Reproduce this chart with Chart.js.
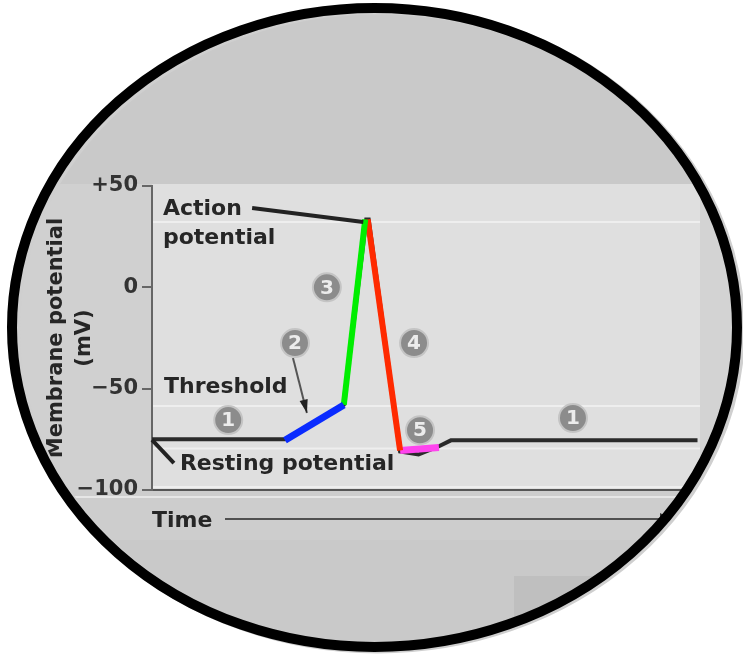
<!DOCTYPE html>
<html lang="en">
<head>
<meta charset="UTF-8">
<title>Action potential</title>
<script src="https://cdn.jsdelivr.net/npm/chart.js"></script>
<style>
  html, body { margin: 0; padding: 0; background: #fff; }
  #wrap { width: 743px; height: 655px; }
</style>
</head>
<body>
<div id="wrap"><canvas id="chart" width="743" height="655"></canvas></div>
<script>
// membrane potential trace (time in arbitrary units, mV)
const traceTime = [0, 26.7, 38.5, 43.0, 43.5, 49.8, 53.5, 57.5, 60, 109.5];
const traceMv   = [-75, -75, -58, 33.5, 33.5, -81, -82.5, -78.5, -75.5, -75.5];

// coloured phase overlays
const blueTime = [26.7, 38.5],  blueMv = [-75.5, -58];
const greenTime = [38.5, 42.8], greenMv = [-58, 33.5];
const redTime = [43.3, 49.8],   redMv = [33.5, -80.5];
const pinkTime = [49.8, 57.6],  pinkMv = [-80.5, -79];

// y axis ticks
const yTicks = [-100, -50, 0, 50];
const yTickLabels = ['\u2212100', '\u221250', '0', '+50'];

// circled step numbers
const stepNums = ['1', '2', '3', '4', '5', '1'];
const stepTime = [15.3, 28.7, 35.1, 52.6, 53.8, 84.5];
const stepMv   = [-65.5, -27.5, 0, -27.5, -70.5, -64.5];

// faint horizontal guide levels in the panel
const guideMv = [32.2, -58.5, -79.5, -98.5];

const toXY = (ts, vs) => ts.map((t, i) => ({ x: t, y: vs[i] }));

const textFont = 'bold 22px "DejaVu Sans"';

const decor = {
    id: 'decor',
    beforeDraw(chart) {
        const { ctx, chartArea: a } = chart;
        const y = chart.scales.y;
        ctx.save();
        ctx.beginPath();
        ctx.ellipse(374.5, 327.5, 362.5, 319.5, 0, 0, Math.PI * 2);
        ctx.fillStyle = '#c9c9c9';
        ctx.fill();
        ctx.clip();
        // left strip and area under the axis
        ctx.fillStyle = '#d0d0d0';
        ctx.fillRect(0, a.top - 2, a.left, a.bottom - a.top + 2);
        ctx.fillStyle = '#cdcdcd';
        ctx.fillRect(0, a.bottom, 743, 50);
        ctx.fillStyle = '#d3d3d3';
        ctx.fillRect(a.right, a.top - 2, 60, a.bottom - a.top + 2);
        // panel
        ctx.fillStyle = '#dfdfdf';
        ctx.fillRect(a.left, a.top - 2, a.right - a.left, a.bottom - a.top + 2);
        ctx.strokeStyle = '#eeeeee';
        ctx.lineWidth = 2;
        guideMv.forEach(v => {
            const gy = y.getPixelForValue(v);
            ctx.beginPath();
            ctx.moveTo(a.left, gy);
            ctx.lineTo(a.right, gy);
            ctx.stroke();
        });
        ctx.fillStyle = '#e6e6e6';
        ctx.fillRect(0, a.bottom + 6, 743, 2);
        // darker block at bottom right
        ctx.fillStyle = '#bfbfbf';
        ctx.fillRect(514, 576, 240, 100);
        ctx.restore();
    },
    afterDatasetsDraw(chart) {
        const { ctx } = chart;
        const X = t => chart.scales.x.getPixelForValue(t);
        const Y = v => chart.scales.y.getPixelForValue(v);
        ctx.save();
        // leader lines
        ctx.strokeStyle = '#222';
        ctx.lineWidth = 4;
        ctx.beginPath();
        ctx.moveTo(X(20.1), Y(39.1));
        ctx.lineTo(X(42.4), Y(32.2));
        ctx.stroke();
        ctx.beginPath();
        ctx.moveTo(X(0), Y(-75.3));
        ctx.lineTo(X(4.4), Y(-86.7));
        ctx.stroke();
        // threshold arrow
        const x0 = X(28.3), y0 = Y(-34.9), x1 = X(31.1), y1 = Y(-62);
        ctx.strokeStyle = '#555';
        ctx.lineWidth = 2;
        ctx.beginPath();
        ctx.moveTo(x0, y0);
        ctx.lineTo(x1, y1);
        ctx.stroke();
        const ang = Math.atan2(y1 - y0, x1 - x0);
        ctx.fillStyle = '#222';
        ctx.beginPath();
        ctx.moveTo(x1, y1);
        ctx.lineTo(x1 - 14 * Math.cos(ang - 0.3), y1 - 14 * Math.sin(ang - 0.3));
        ctx.lineTo(x1 - 14 * Math.cos(ang + 0.3), y1 - 14 * Math.sin(ang + 0.3));
        ctx.closePath();
        ctx.fill();
        // time arrow
        ctx.strokeStyle = '#505050';
        ctx.lineWidth = 2;
        ctx.beginPath();
        ctx.moveTo(225, 519);
        ctx.lineTo(664, 519);
        ctx.stroke();
        ctx.fillStyle = '#333';
        ctx.beginPath();
        ctx.moveTo(672, 519);
        ctx.lineTo(660, 513);
        ctx.lineTo(660, 525);
        ctx.closePath();
        ctx.fill();
        // labels
        ctx.fillStyle = '#262626';
        ctx.font = textFont;
        ctx.textAlign = 'left';
        ctx.textBaseline = 'alphabetic';
        ctx.fillText('Action', X(2.2), Y(35.7));
        ctx.fillText('potential', X(2.2), Y(21.4));
        ctx.fillText('Threshold', X(2.4), Y(-52.1));
        ctx.fillText('Resting potential', X(5.6), Y(-90.1));
        // circled numbers
        stepNums.forEach((n, i) => {
            const cx = X(stepTime[i]), cy = Y(stepMv[i]);
            ctx.beginPath();
            ctx.arc(cx, cy, 14, 0, Math.PI * 2);
            ctx.fillStyle = '#8c8c8c';
            ctx.fill();
            ctx.strokeStyle = '#c4c4c4';
            ctx.lineWidth = 2;
            ctx.stroke();
            ctx.fillStyle = '#ececec';
            ctx.font = 'bold 20px "DejaVu Sans"';
            ctx.textAlign = 'center';
            ctx.textBaseline = 'middle';
            ctx.fillText(n, cx, cy + 1);
        });
        ctx.restore();
    },
    afterDraw(chart) {
        const { ctx, width, height } = chart;
        ctx.save();
        ctx.beginPath();
        ctx.rect(0, 0, width, height);
        ctx.ellipse(374.5, 327.5, 362.5, 319.5, 0, 0, Math.PI * 2);
        ctx.fillStyle = '#fff';
        ctx.fill('evenodd');
        ctx.lineWidth = 10;
        ctx.strokeStyle = '#cfcfcf';
        ctx.beginPath();
        ctx.ellipse(377.5, 329, 362.5, 319.5, 0, 0, Math.PI * 2);
        ctx.stroke();
        ctx.strokeStyle = '#000';
        ctx.beginPath();
        ctx.ellipse(374.5, 327.5, 362.5, 319.5, 0, 0, Math.PI * 2);
        ctx.stroke();
        ctx.restore();
    }
};

const seg = (data, color, w) => ({
    data, borderColor: color, borderWidth: w, pointRadius: 0, tension: 0, fill: false
});

new Chart(document.getElementById('chart'), {
    type: 'line',
    data: {
        datasets: [
            seg(toXY(blueTime, blueMv), '#0a2bff', 7),
            seg(toXY(greenTime, greenMv), '#00ee00', 6),
            seg(toXY(redTime, redMv), '#ff2a00', 6),
            seg(toXY(pinkTime, pinkMv), '#ff44ee', 7),
            seg(toXY(traceTime, traceMv), '#2b2b2b', 4)
        ]
    },
    options: {
        responsive: false,
        animation: false,
        devicePixelRatio: 1,
        layout: { padding: { top: 186, right: 43, left: 0, bottom: 0 } },
        plugins: { legend: { display: false }, tooltip: { enabled: false } },
        scales: {
            x: {
                type: 'linear',
                min: 0,
                max: 110,
                ticks: { display: false },
                grid: { drawOnChartArea: false, drawTicks: false },
                border: { display: true, color: '#555', width: 2 },
                title: {
                    display: true,
                    text: 'Time',
                    align: 'start',
                    color: '#262626',
                    font: { family: 'DejaVu Sans', size: 22, weight: 'bold' },
                    padding: { top: 0, bottom: 121 }
                },
                afterFit(scale) { scale.height = 165; }
            },
            y: {
                min: -100,
                max: 50,
                afterBuildTicks(scale) { scale.ticks = yTicks.map(v => ({ value: v })); },
                ticks: {
                    color: '#333',
                    padding: 4,
                    font: { family: 'DejaVu Sans', size: 21, weight: 'bold' },
                    callback: v => yTickLabels[yTicks.indexOf(v)]
                },
                grid: { drawOnChartArea: false, tickLength: 10, color: '#666', lineWidth: 2 },
                border: { display: true, color: '#666', width: 2 },
                title: {
                    display: true,
                    text: ['Membrane potential', '(mV)'],
                    color: '#262626',
                    font: { family: 'DejaVu Sans', size: 21, weight: 'bold', lineHeight: 1.35 },
                    padding: { top: 42, bottom: 0 }
                },
                afterFit(scale) { scale.width = 152; }
            }
        }
    },
    plugins: [decor]
});
</script>
</body>
</html>
